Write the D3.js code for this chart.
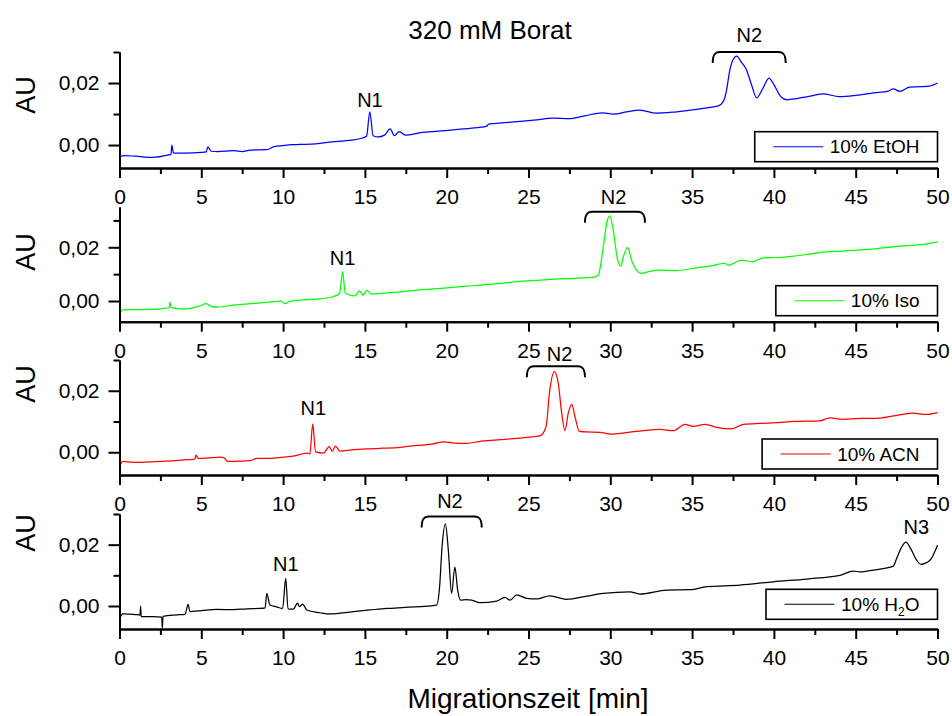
<!DOCTYPE html>
<html>
<head>
<meta charset="utf-8">
<script src="https://cdn.jsdelivr.net/npm/d3@7"></script>
<style>
  body { margin: 0; background: #fff; }
  svg { display: block; }
  text { font-family: "Liberation Sans", Arial, Helvetica, sans-serif; fill: #000; }
</style>
</head>
<body>
<svg id="chart" width="952" height="716"></svg>
<script>
// ---- Data -------------------------------------------------------------
const timeTicks = [0, 5, 10, 15, 20, 25, 30, 35, 40, 45, 50];
const timeMinorTicks = [2.5, 7.5, 12.5, 17.5, 22.5, 27.5, 32.5, 37.5, 42.5, 47.5];
const auTicks = [0, 0.02];
const auMinorTicks = [0.01, 0.03];

const seriesNames = ["10% EtOH", "10% Iso", "10% ACN", "10% H2O"];

// 10% EtOH
const etohTime = [0, 0.1, 0.3, 1, 2, 3, 3.15, 3.2, 3.3, 4, 5, 5.3, 5.4, 5.6, 6, 7, 7.5, 8, 9, 9.5, 10, 10.5, 11, 12, 13, 14, 14.8, 15.1, 15.3, 15.5, 15.8, 16.2, 16.55, 16.8, 17.1, 17.5, 18.4, 19.5, 20.4, 21.3, 22.0, 22.4, 22.6, 23.5, 24.5, 25.5, 26.5, 27.5, 28.5, 29.5, 30.2, 31, 31.8, 32.8, 33.8, 34.8, 35.9, 36.6, 36.9, 37.1, 37.3, 37.5, 37.73, 38.0, 38.3, 38.6, 38.95, 39.3, 39.7, 40.0, 40.4, 40.8, 41.4, 42.0, 43.0, 44.0, 45.0, 46.1, 47.0, 47.3, 47.7, 48.3, 49.0, 49.5, 50];
const etohAU = [-0.0058, -0.0036, -0.0034, -0.0036, -0.0040, -0.0032, -0.0030, 0.0000, -0.0026, -0.0026, -0.0024, -0.0022, -0.0006, -0.0020, -0.0021, -0.0018, -0.0021, -0.0016, -0.0015, -0.0004, -0.0002, 0.0001, 0.0002, 0.0004, 0.0010, 0.0015, 0.0022, 0.0028, 0.0107, 0.0030, 0.0026, 0.0032, 0.0052, 0.0030, 0.0043, 0.0032, 0.0040, 0.0045, 0.0049, 0.0053, 0.0057, 0.0060, 0.0068, 0.0072, 0.0076, 0.0081, 0.0087, 0.0085, 0.0095, 0.0104, 0.0100, 0.0107, 0.0113, 0.0103, 0.0106, 0.0112, 0.0120, 0.0126, 0.0140, 0.0175, 0.0240, 0.0275, 0.0287, 0.0268, 0.0245, 0.0200, 0.0152, 0.0180, 0.0216, 0.0195, 0.0158, 0.0146, 0.0150, 0.0155, 0.0165, 0.0156, 0.0160, 0.0168, 0.0174, 0.0181, 0.0173, 0.0187, 0.0188, 0.0190, 0.0200];

// 10% Iso
const isoTime = [0, 0.2, 1, 2, 2.9, 3.05, 3.08, 3.15, 3.8, 4.9, 5.3, 5.6, 5.9, 7.0, 8.0, 9.0, 9.9, 10.1, 10.4, 11.0, 12.0, 13.0, 13.45, 13.64, 13.8, 14.4, 14.66, 14.9, 15.1, 15.4, 16.1, 17.0, 18.2, 19.2, 20.2, 21.2, 22.2, 23.3, 24.3, 25.5, 26.9, 28.0, 28.96, 29.27, 29.57, 29.8, 29.98, 30.18, 30.43, 30.64, 30.8, 31.06, 31.3, 31.6, 31.9, 32.4, 33.0, 34.06, 35.1, 36.1, 37.0, 37.2, 38.0, 38.7, 39.35, 40.2, 41.2, 42.2, 43.2, 44.2, 45.3, 46.3, 47.3, 48.4, 49.3, 50];
const isoAU = [-0.0052, -0.0033, -0.0032, -0.0031, -0.0026, -0.0025, -0.0003, -0.0024, -0.0030, -0.0019, -0.0010, -0.0020, -0.0023, -0.0015, -0.0010, -0.0005, 0.0000, -0.0010, -0.0002, 0.0003, 0.0007, 0.0015, 0.0028, 0.0109, 0.0029, 0.0019, 0.0038, 0.0021, 0.0040, 0.0026, 0.0029, 0.0033, 0.0041, 0.0045, 0.0050, 0.0055, 0.0060, 0.0066, 0.0072, 0.0077, 0.0082, 0.0085, 0.0088, 0.0097, 0.0202, 0.0295, 0.0317, 0.0264, 0.0159, 0.0130, 0.0165, 0.0200, 0.0152, 0.0115, 0.0103, 0.0110, 0.0115, 0.0113, 0.0122, 0.0130, 0.0140, 0.0133, 0.0152, 0.0146, 0.0161, 0.0162, 0.0167, 0.0175, 0.0183, 0.0186, 0.0190, 0.0195, 0.0202, 0.0207, 0.0212, 0.0220];

// 10% ACN
const acnTime = [0, 0.2, 0.85, 1.9, 2.9, 3.9, 4.6, 4.68, 4.8, 5.5, 6.14, 6.4, 6.6, 7.3, 8.0, 8.39, 9.2, 10.0, 10.7, 11.44, 11.64, 11.81, 11.98, 12.46, 12.83, 13.0, 13.2, 13.48, 14.2, 15.1, 16.1, 17.15, 18.2, 19.18, 19.8, 20.5, 21.2, 22.2, 23.3, 24.3, 25.0, 25.7, 26.07, 26.3, 26.58, 26.82, 27.03, 27.23, 27.43, 27.64, 27.84, 28.1, 28.5, 29.37, 30.0, 31.0, 32.0, 33.04, 33.85, 34.57, 35.07, 35.79, 36.5, 37.42, 38.13, 39.15, 40.2, 41.2, 42.8, 43.4, 44.2, 45.3, 46.3, 47.3, 48.5, 49.3, 50];
const acnAU = [-0.0049, -0.0030, -0.0033, -0.0031, -0.0029, -0.0025, -0.0022, -0.0009, -0.0020, -0.0018, -0.0016, -0.0018, -0.0030, -0.0029, -0.0027, -0.0020, -0.0020, -0.0016, -0.0012, -0.0003, -0.0005, 0.0092, 0.0002, -0.0003, 0.0018, 0.0003, 0.0020, 0.0004, 0.0008, 0.0011, 0.0013, 0.0016, 0.0022, 0.0027, 0.0034, 0.0030, 0.0029, 0.0037, 0.0041, 0.0045, 0.0049, 0.0053, 0.0083, 0.0202, 0.0262, 0.0224, 0.0127, 0.0070, 0.0127, 0.0156, 0.0116, 0.0069, 0.0066, 0.0065, 0.0059, 0.0064, 0.0070, 0.0074, 0.0070, 0.0091, 0.0084, 0.0091, 0.0081, 0.0076, 0.0091, 0.0094, 0.0096, 0.0100, 0.0102, 0.0112, 0.0107, 0.0110, 0.0110, 0.0118, 0.0127, 0.0123, 0.0129];

// 10% H2O
const waterTime = [0, 0.2, 0.85, 1.25, 1.29, 1.33, 2.07, 2.58, 2.62, 2.66, 3.5, 4.0, 4.2, 4.3, 5.0, 5.94, 6.96, 7.8, 8.59, 8.9, 9.0, 9.2, 9.6, 9.97, 10.16, 10.3, 10.62, 10.89, 11.0, 11.2, 11.44, 12.26, 12.87, 14.3, 15.3, 16.33, 17.3, 18.37, 19.39, 19.55, 19.73, 19.92, 20.1, 20.3, 20.5, 20.67, 20.85, 21.2, 21.53, 22.04, 23.06, 23.56, 23.87, 24.28, 24.89, 25.5, 26.3, 27.33, 28.56, 29.57, 31.2, 31.8, 33.45, 34.87, 35.9, 37.93, 39.96, 42.0, 44.04, 44.85, 45.26, 46.08, 47.3, 47.5, 47.81, 48.07, 48.36, 48.73, 48.99, 49.54, 50];
const waterAU = [-0.0043, -0.0026, -0.0027, -0.0030, 0.0000, -0.0035, -0.0035, -0.0036, -0.0072, -0.0034, -0.0029, -0.0027, 0.0005, -0.0018, -0.0015, -0.0011, -0.0012, -0.0009, -0.0008, -0.0006, 0.0041, 0.0003, -0.0003, -0.0008, 0.0090, -0.0009, -0.0010, 0.0009, -0.0002, 0.0006, -0.0013, -0.0022, -0.0026, -0.0018, -0.0013, -0.0008, -0.0005, -0.0002, 0.0003, 0.0052, 0.0203, 0.0268, 0.0182, 0.0041, 0.0127, 0.0052, 0.0019, 0.0021, 0.0019, 0.0011, 0.0016, 0.0028, 0.0019, 0.0036, 0.0025, 0.0023, 0.0033, 0.0022, 0.0032, 0.0041, 0.0046, 0.0039, 0.0052, 0.0053, 0.0063, 0.0068, 0.0079, 0.0088, 0.0100, 0.0114, 0.0111, 0.0117, 0.0130, 0.0155, 0.0192, 0.0208, 0.0187, 0.0149, 0.0136, 0.0149, 0.0198];

// Peak labels (time, AU of text baseline) per run
const peakLabelText = [["N1", "N2"], ["N1", "N2"], ["N1", "N2"], ["N1", "N2", "N3"]];
const peakLabelTime = [[15.31, 38.5], [13.64, 30.2], [11.85, 26.9], [10.17, 20.2, 48.7]];
const peakLabelAU = [[0.0123, 0.0333], [0.0134, 0.0360], [0.0121, 0.0296], [0.0114, 0.0318, 0.0236]];

// Brackets grouping the N2 peaks: start time, end time, AU of the bar
const bracketStart = [36.26, 28.45, 24.9, 18.47];
const bracketEnd = [40.72, 32.12, 28.45, 22.14];
const bracketAU = [0.0300, 0.0332, 0.0280, 0.0292];

// ---- Layout -----------------------------------------------------------
const runs = [
  { t: etohTime, v: etohAU, color: "#0000ff" },
  { t: isoTime, v: isoAU, color: "#00ff00" },
  { t: acnTime, v: acnAU, color: "#ff0000" },
  { t: waterTime, v: waterAU, color: "#000000" }
];
const panels = [
  { top: 52, bottom: 168, yDomain: [-0.0074, 0.030], auY: 95, legendBottom: 161.7 },
  { top: 207, bottom: 321.7, yDomain: [-0.0077, 0.035], auY: 252, legendBottom: 315.7 },
  { top: 360, bottom: 475, yDomain: [-0.0074, 0.030], auY: 384, legendBottom: 469 },
  { top: 514, bottom: 629, yDomain: [-0.0075, 0.030], auY: 533, legendBottom: 619.3 }
];
const plotLeft = 119.5, plotRight = 937.5;

const svg = d3.select("#chart");
const x = d3.scaleLinear().domain([0, 50]).range([plotLeft, plotRight]);
const fmtAU = v => d3.format(".2f")(v).replace(".", ",");

function styleAxis(g) {
  g.select(".domain").attr("stroke", "#000").attr("stroke-width", 2);
  g.selectAll(".tick line").attr("stroke", "#000").attr("stroke-width", 2);
  g.selectAll(".tick text").attr("font-size", 21).attr("fill", "#000")
    .style("font-family", '"Liberation Sans", Arial, sans-serif');
}

const yScales = [];
panels.forEach((p, i) => {
  const y = d3.scaleLinear().domain(p.yDomain).range([p.bottom, p.top]);
  yScales.push(y);
  const g = svg.append("g");
  const run = runs[i];

  // trace
  g.append("path")
    .datum(d3.zip(run.t, run.v))
    .attr("d", d3.line().curve(d3.curveMonotoneX).x(d => x(d[0])).y(d => y(d[1])))
    .attr("fill", "none")
    .attr("stroke", run.color)
    .attr("stroke-width", 1.25)
    .attr("stroke-linejoin", "round");

  // time axis
  g.append("g").attr("transform", `translate(0,${p.bottom})`)
    .call(d3.axisBottom(x).tickValues(timeMinorTicks).tickSize(6).tickSizeOuter(0).tickFormat(""))
    .call(styleAxis);
  g.append("g").attr("class", "time-axis").attr("transform", `translate(0,${p.bottom})`)
    .call(d3.axisBottom(x).tickValues(timeTicks).tickSize(10).tickPadding(11).tickSizeOuter(0).tickFormat(d3.format("d")))
    .call(styleAxis);

  // AU axis
  g.append("g").attr("transform", `translate(${plotLeft},0)`)
    .call(d3.axisLeft(y).tickValues(auMinorTicks).tickSize(6).tickSizeOuter(0).tickFormat(""))
    .call(styleAxis);
  g.append("g").attr("transform", `translate(${plotLeft},0)`)
    .call(d3.axisLeft(y).tickValues(auTicks).tickSize(11).tickPadding(9).tickSizeOuter(0).tickFormat(fmtAU))
    .call(styleAxis);

  // AU title
  svg.append("text")
    .attr("transform", `translate(35,${p.auY}) rotate(-90)`)
    .attr("text-anchor", "middle")
    .attr("font-size", 27)
    .text("AU");

  // legend
  const lg = svg.append("g");
  const legText = lg.append("text")
    .attr("x", 919.5).attr("y", p.legendBottom - 8.4)
    .attr("text-anchor", "end").attr("font-size", 19);
  const name = seriesNames[i];
  if (name.endsWith("H2O")) {
    legText.append("tspan").text("10% H");
    legText.append("tspan").attr("font-size", 12).attr("dy", 5).text("2");
    legText.append("tspan").attr("dy", -5).text("O");
  } else {
    legText.text(name);
  }
  const bb = legText.node().getBBox();
  const lineEnd = bb.x - 6.5, lineStart = lineEnd - 50;
  const midY = p.legendBottom - 15;
  lg.insert("rect", "text")
    .attr("x", lineStart - 18.5).attr("y", p.legendBottom - 30)
    .attr("width", plotRight - (lineStart - 18.5)).attr("height", 30)
    .attr("fill", "#fff").attr("stroke", "#000").attr("stroke-width", 1.6);
  lg.append("line")
    .attr("x1", lineStart).attr("x2", lineEnd).attr("y1", midY).attr("y2", midY)
    .attr("stroke", run.color).attr("stroke-width", 1.1);
});

// peak annotations and brackets
const peakLabelNodes = [];
panels.forEach((p, i) => {
  const y = yScales[i];
  const x1 = x(bracketStart[i]), x2 = x(bracketEnd[i]), yb = y(bracketAU[i]);
  svg.append("path")
    .attr("d", `M${x1},${yb + 11} C${x1},${yb + 3} ${x1 + 2},${yb} ${x1 + 7},${yb} L${x2 - 7},${yb} C${x2 - 2},${yb} ${x2},${yb + 3} ${x2},${yb + 11}`)
    .attr("fill", "none").attr("stroke", "#000").attr("stroke-width", 2);

  peakLabelText[i].forEach((txt, k) => {
    const t = svg.append("text")
      .attr("x", x(peakLabelTime[i][k])).attr("y", y(peakLabelAU[i][k]))
      .attr("text-anchor", "middle").attr("font-size", 20)
      .text(txt);
    peakLabelNodes.push(t.node());
  });
});

// a peak label sitting on the time axis of the panel above hides that tick label
function intersects(a, b) {
  return a.left < b.right && b.left < a.right && a.top < b.bottom && b.top < a.bottom;
}
svg.selectAll(".time-axis .tick text").each(function () {
  const r = this.getBoundingClientRect();
  if (peakLabelNodes.some(n => intersects(r, n.getBoundingClientRect()))) d3.select(this).remove();
});

// titles
svg.append("text").attr("x", 490).attr("y", 39).attr("text-anchor", "middle")
  .attr("font-size", 26).text("320 mM Borat");
svg.append("text").attr("x", 528).attr("y", 708).attr("text-anchor", "middle")
  .attr("font-size", 28).text("Migrationszeit [min]");
</script>
</body>
</html>
